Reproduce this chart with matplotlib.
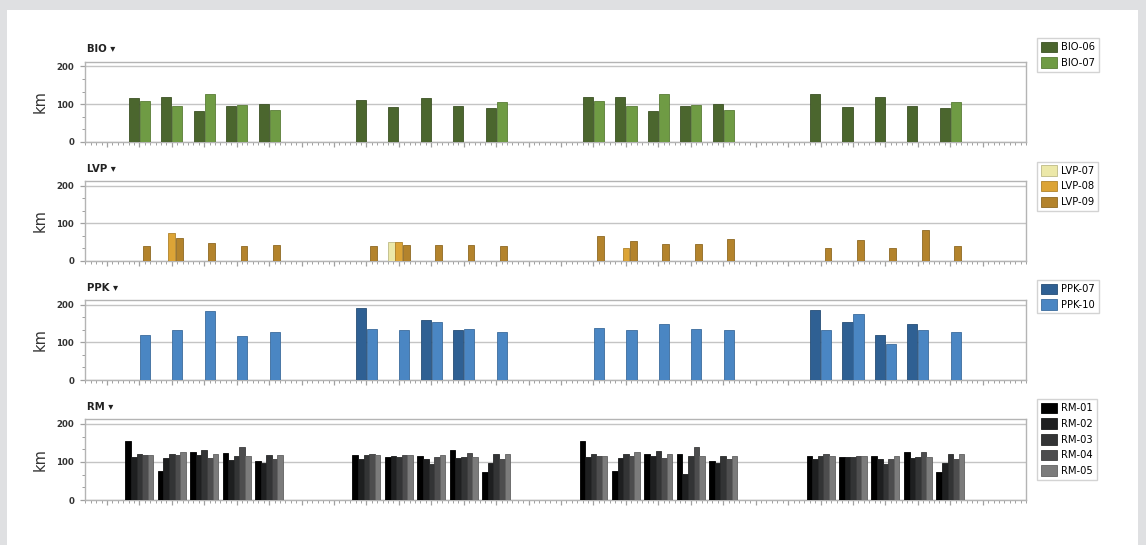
import numpy as np
import matplotlib
matplotlib.use("Agg")
import matplotlib.pyplot as plt
from matplotlib.patches import Rectangle

# days of the 4-week period (0 = first Sunday), empty days have no value
days = np.arange(28)

# BIO group (km)
bio_06 = [None, 117, 120, 83, 95, 100, None, None, 110, 93, 117, 95, 90, None,
          None, 118, 120, 82, 95, 100, None, None, 127, 93, 118, 95, 90, None]
bio_07 = [None, 107, 95, 127, 98, 85, None, None, None, None, None, None, 105, None,
          None, 107, 95, 127, 98, 85, None, None, None, None, None, None, 105, None]

# LVP group
lvp_07 = [None, None, None, None, None, None, None, None, None, 50, None, None, None, None,
          None, None, None, None, None, None, None, None, None, None, None, None, None, None]
lvp_08 = [None, None, 75, None, None, None, None, None, None, 50, None, None, None, None,
          None, None, 34, None, None, None, None, None, None, None, None, None, None, None]
lvp_09 = [None, 38, 61, 48, 38, 41, None, None, 38, 43, 41, 41, 38, None,
          None, 65, 52, 44, 44, 58, None, None, 34, 55, 34, 83, 40, None]

# PPK group
ppk_07 = [None, None, None, None, None, None, None, None, 191, None, 159, 134, None, None,
          None, None, None, None, None, None, None, None, 186, 154, 121, 148, None, None]
ppk_10 = [None, 120, 134, 184, 117, 127, None, None, 137, 134, 154, 137, 127, None,
          None, 139, 134, 150, 137, 132, None, None, 132, 176, 96, 132, 128, None]

# RM group
rm_01 = [None, 155, 76, 125, 123, 103, None, None, 118, 113, 116, 131, 74, None,
         None, 154, 77, 122, 122, 103, None, None, 117, 113, 115, 127, 74, None]
rm_02 = [None, 113, 110, 118, 106, 98, None, None, 109, 116, 109, 110, 98, None,
         None, 113, 110, 117, 69, 98, None, None, 108, 113, 108, 110, 98, None]
rm_03 = [None, 121, 121, 131, 116, 118, None, None, 118, 113, 94, 113, 121, None,
         None, 120, 120, 130, 117, 117, None, None, 117, 113, 94, 113, 120, None]
rm_04 = [None, 118, 118, 110, 140, 109, None, None, 121, 118, 113, 123, 109, None,
         None, 117, 117, 110, 139, 108, None, None, 120, 117, 108, 125, 108, None]
rm_05 = [None, 118, 125, 121, 116, 118, None, None, 118, 118, 118, 113, 121, None,
         None, 117, 125, 120, 115, 117, None, None, 117, 117, 117, 113, 120, None]

panels = [
    ("BIO", ["BIO-06", "BIO-07"], [bio_06, bio_07], ["#4b662e", "#6f9b44"]),
    ("LVP", ["LVP-07", "LVP-08", "LVP-09"], [lvp_07, lvp_08, lvp_09],
     ["#ece8a8", "#dca436", "#b3832c"]),
    ("PPK", ["PPK-07", "PPK-10"], [ppk_07, ppk_10], ["#2f6093", "#4a86c3"]),
    ("RM", ["RM-01", "RM-02", "RM-03", "RM-04", "RM-05"],
     [rm_01, rm_02, rm_03, rm_04, rm_05],
     ["#000000", "#1e1f20", "#333435", "#4d4d4e", "#7b7b7b"]),
]

W, H = 1146, 545
fig = plt.figure(figsize=(W / 100, H / 100), dpi=100)
fig.patch.set_facecolor("#dfe0e2")
fig.add_artist(Rectangle((7 / W, 0), (1138 - 7) / W, (H - 10) / H, transform=fig.transFigure,
                         facecolor="white", edgecolor="none", zorder=-1))

tops = [61.5, 181, 300, 419]
heights = [80.3, 79.7, 80, 81]
legend_tops = [38.3, 161.7, 280, 399.3]
group_w = [0.68, 0.68, 0.68, 0.86]
bar_fill = [0.92, 0.92, 0.92, 1.0]

grid_c = "#c4c4c4"
tick_c = "#a0a0a0"

for p, (name, labels, series, colors) in enumerate(panels):
    top, h = tops[p], heights[p]
    ax = fig.add_axes([85.3 / W, 1 - (top + h) / H, 940.7 / W, h / H])
    n = len(series)
    slot = group_w[p] / n
    handles = []
    for i, (vals, col) in enumerate(zip(series, colors)):
        v = np.array(vals, dtype=float)
        off = (i - (n - 1) / 2) * slot
        edge = tuple(c * 0.8 for c in matplotlib.colors.to_rgb(col))
        b = ax.bar(days + off, v, width=slot * bar_fill[p], color=col,
                   edgecolor=edge, linewidth=0.6, zorder=3)
        handles.append(b)

    ax.set_xlim(-0.667, 27.667)
    ax.set_ylim(0, 213)
    ax.set_xticks(days)
    ax.set_xticks(np.arange(-4, 171) / 6, minor=True)
    ax.set_yticks([0, 100, 200])
    ax.set_yticks([100 / 3, 200 / 3, 400 / 3, 500 / 3], minor=True)
    ax.tick_params(axis="x", which="both", labelbottom=False, color=tick_c)
    ax.tick_params(axis="x", which="major", length=3.5, width=0.9)
    ax.tick_params(axis="x", which="minor", length=2.2, width=0.7)
    ax.tick_params(axis="y", which="major", length=3.5, width=0.9, color=tick_c,
                   labelsize=6.2, pad=4.5, labelcolor="#333333")
    ax.tick_params(axis="y", which="minor", length=2.2, width=0.7, color=tick_c)
    for lab in ax.get_yticklabels():
        lab.set_fontweight("bold")
    ax.yaxis.grid(True, color=grid_c, linewidth=1)
    ax.set_axisbelow(True)
    for s in ax.spines.values():
        s.set_color("#b4b4b4")
        s.set_linewidth(1)

    fig.text(87 / W, 1 - (top - 12) / H, name + " \u25BE", fontsize=7.3,
             fontweight="bold", color="#222222", va="center", ha="left")
    fig.text(40 / W, 1 - (top + h / 2) / H, "km", rotation=90, fontsize=10.5,
             color="#333333", va="center", ha="center")

    ax.legend(handles, labels, loc="upper left",
              bbox_to_anchor=(1037 / W, 1 - legend_tops[p] / H),
              bbox_transform=fig.transFigure, fontsize=7.2, frameon=True,
              fancybox=False, edgecolor="#c8c8c8", borderpad=0.35,
              handlelength=1.65, handleheight=1.25, handletextpad=0.45,
              labelspacing=0.5, borderaxespad=0)

fig.savefig("out.png", dpi=100, facecolor=fig.get_facecolor())
